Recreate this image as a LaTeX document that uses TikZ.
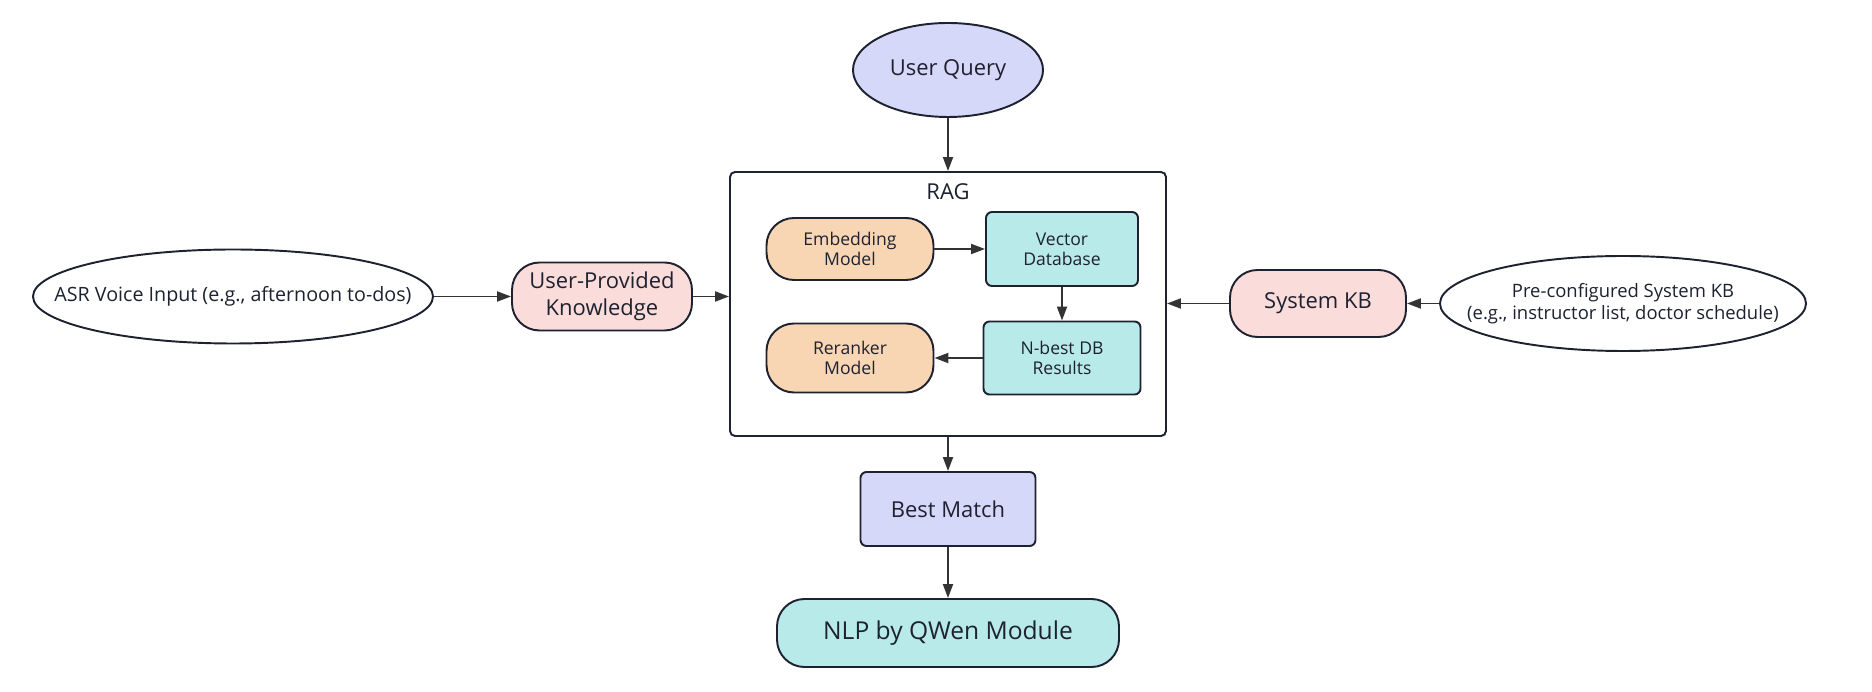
\documentclass[tikz,border=0pt]{standalone}
\usepackage{fontspec}
\setmainfont{Open Sans}
\usepackage{xcolor}
\usepackage{tikz}
\usetikzlibrary{arrows.meta,shapes.geometric}
\definecolor{flowink}{HTML}{1E2230}
\definecolor{flowarrow}{HTML}{333333}
\definecolor{flowlav}{HTML}{D5D8F8}
\definecolor{flowpink}{HTML}{FADCDA}
\definecolor{flowpeach}{HTML}{F8D6B4}
\definecolor{flowcyan}{HTML}{B8EAEA}
\tikzset{
  box/.style={draw=flowink,line width=1.1pt,align=center,inner sep=0pt,text=flowink},
  pill/.style={box,rounded corners=0.55cm},
  card/.style={box,rounded corners=0.12cm},
  oval/.style={box,ellipse},
  edge/.style={draw=flowarrow,line width=1.1pt,-{Triangle[length=0.28cm,width=0.2cm]}},
  bigtext/.style={font=\fontsize{12.5}{15.5}\selectfont},
  midtext/.style={font=\fontsize{10}{11.5}\selectfont},
  smalltext/.style={font=\fontsize{10.5}{12.5}\selectfont}
}

\begin{document}
\begin{tikzpicture}
  \useasboundingbox (0,0) rectangle (37.44,-13.84);
  % top and RAG block
  \node[oval,fill=flowlav,bigtext,minimum width=3.8cm,minimum height=1.88cm] (query) at (18.96,-1.40) {User Query};
  \node[box,fill=white,rounded corners=0.1cm,minimum width=8.72cm,minimum height=5.28cm] (rag) at (18.96,-6.08) {};
  \node[bigtext,text=flowink] (ragtitle) at (18.96,-3.84) {RAG};
  \node[pill,fill=flowpeach,midtext,minimum width=3.34cm,minimum height=1.24cm] (embed) at (17.0,-4.98) {Embedding\\Model};
  \node[card,fill=flowcyan,midtext,minimum width=3.04cm,minimum height=1.48cm] (vecdb) at (21.24,-4.98) {Vector\\Database};
  \node[card,fill=flowcyan,midtext,minimum width=3.14cm,minimum height=1.46cm] (nbest) at (21.24,-7.16) {N-best DB\\Results};
  \node[pill,fill=flowpeach,midtext,minimum width=3.34cm,minimum height=1.38cm] (rerank) at (17.0,-7.16) {Reranker\\Model};
  % left side
  \node[oval,fill=white,font=\fontsize{11.2}{13}\selectfont,minimum width=8cm,minimum height=1.88cm] (asr) at (4.66,-5.93) {\makebox[0pt]{ASR Voice Input (e.g., afternoon to-dos)}};
  \node[pill,fill=flowpink,bigtext,minimum width=3.6cm,minimum height=1.36cm] (userkb) at (12.04,-5.93) {User-Provided\\Knowledge};
  % right side
  \node[pill,fill=flowpink,bigtext,minimum width=3.52cm,minimum height=1.34cm] (syskb) at (26.36,-6.07) {System KB};
  \node[oval,fill=white,smalltext,minimum width=7.32cm,minimum height=1.9cm] (preset) at (32.46,-6.07) {\makebox[0pt]{Pre-configured System KB}\\\makebox[0pt]{(e.g., instructor list, doctor schedule)}};
  % bottom
  \node[card,fill=flowlav,bigtext,minimum width=3.5cm,minimum height=1.48cm] (best) at (18.96,-10.18) {Best Match};
  \node[pill,fill=flowcyan,font=\fontsize{14}{17}\selectfont,minimum width=6.84cm,minimum height=1.36cm] (nlp) at (18.96,-12.66) {NLP by QWen Module};

  \draw[edge] (query) -- (rag);
  \draw[edge] (embed) -- (vecdb);
  \draw[edge] (vecdb) -- (nbest);
  \draw[edge] (nbest) -- (rerank);
  \draw[edge] (asr) -- (userkb);
  \draw[edge] (userkb) -- (userkb -| rag.west);
  \draw[edge] (preset) -- (syskb);
  \draw[edge] (syskb) -- (syskb -| rag.east);
  \draw[edge] (rag) -- (best);
  \draw[edge] (best) -- (nlp);
\end{tikzpicture}
\end{document}
